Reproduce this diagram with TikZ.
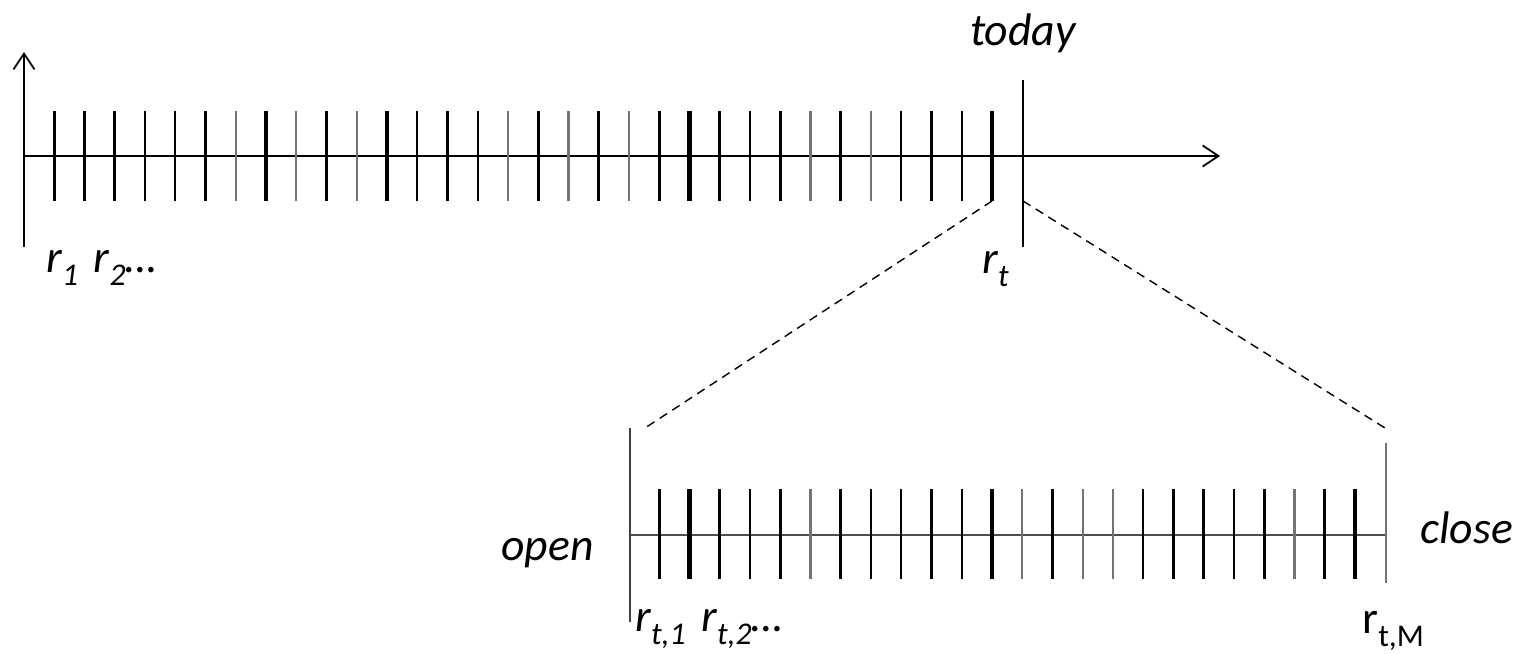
\documentclass[tikz,border=0pt]{standalone}
\usepackage{fontspec}
\setmainfont{Carlito}
\usetikzlibrary{arrows.meta,positioning}

% variable with a lowered index
\newcommand{\rsub}[2]{#1\raisebox{-0.3em}{\fontsize{18}{18}\selectfont #2}}

\begin{document}
\begin{tikzpicture}[
  x=0.02cm, y=-0.02cm,
  font=\fontsize{26}{30}\selectfont\itshape,
  axis/.style={line width=1pt, -{Straight Barb[length=9pt,width=12pt]}},
  rule/.style={line width=1pt},
  thk/.style={line width=1.9pt},
  vthk/.style={line width=2.5pt},
  thn/.style={line width=1.2pt},
  gry/.style={line width=1.2pt, draw=black!55},
  zoomline/.style={line width=0.8pt, dash pattern=on 5pt off 3.5pt},
  tag/.style={inner sep=0pt, anchor=base west}
]
\useasboundingbox (0,0) rectangle (1523,653);

% long time axis
\coordinate (o) at (24,156);
\coordinate (ybot) at (24,247);
\coordinate (ytop) at (24,52);
\coordinate (xend) at (1220,156);
\draw[axis] (ybot) -- (ytop);
\draw[axis] (o) -- (xend);
\foreach \k/\s in {1/thk,2/thn,3/thk,4/thn,5/thn,6/thn,7/gry,8/thk,9/gry,10/thk,
                   11/gry,12/thk,13/thn,14/thn,15/thn,16/gry,17/thk,18/gry,19/thk,20/gry,
                   21/thk,22/vthk,23/thk,24/thn,25/thk,26/gry,27/thk,28/gry,29/thn,30/thn,
                   31/thn,32/thk}
  \draw[\s] (24+30.25*\k,111) coordinate (t\k) -- (24+30.25*\k,201) coordinate (b\k);
\coordinate (tdtop) at (1023,80);
\coordinate (tdbot) at (1023,247);
\coordinate (tdmid) at (1023,201);
\draw[rule] (tdtop) -- (tdbot);

% one day, zoomed in
\coordinate (lo) at (630,535);
\coordinate (hi) at (1386,535);
\coordinate (lotop) at (630,428);
\coordinate (lobot) at (630,622);
\coordinate (hitop) at (1386,443);
\coordinate (hibot) at (1386,583);
\draw[rule, draw=black!70] (lo) -- (hi);
\draw[rule, draw=black!75] (lotop) -- (lobot);
\draw[rule, draw=black!55] (hitop) -- (hibot);
\foreach \k/\s in {21/thk,22/vthk,23/thk,24/thn,25/thk,26/gry,27/thk,28/thn,29/thn,30/thn,
                   31/thn,32/thk,33/gry,34/thk,35/gry,36/gry,37/thn,38/thn,39/thk,40/thn,
                   41/thk,42/gry,43/thk,44/thk}
  \draw[\s] (24+30.25*\k,489) coordinate (u\k) -- (24+30.25*\k,579) coordinate (v\k);

\coordinate (zl) at (645,428);
\coordinate (zr) at (1385,428);
\draw[zoomline] (b32) -- (zl);
\draw[zoomline] (tdmid) -- (zr);

% labels
\node[anchor=base, inner sep=0pt] (today) at (1023,45) {today};
\node[tag] (r1) at (46,272) {\rsub{r}{1}\hspace{9pt}\rsub{r}{2}\dots};
\node[tag] (rt) at (982,273) {\rsub{r}{t}};
\node[anchor=base east, inner sep=0pt] (open) at (594,560) {open};
\node[tag] (close) at (1420,543) {close};
\node[tag] (rt1) at (635,631) {\rsub{r}{t,1}\hspace{9pt}\rsub{r}{t,2}\dots};
\node[tag, font=\fontsize{26}{30}\selectfont\upshape] (rtM) at (1362,633) {\rsub{r}{t,M}};

\end{tikzpicture}
\end{document}
